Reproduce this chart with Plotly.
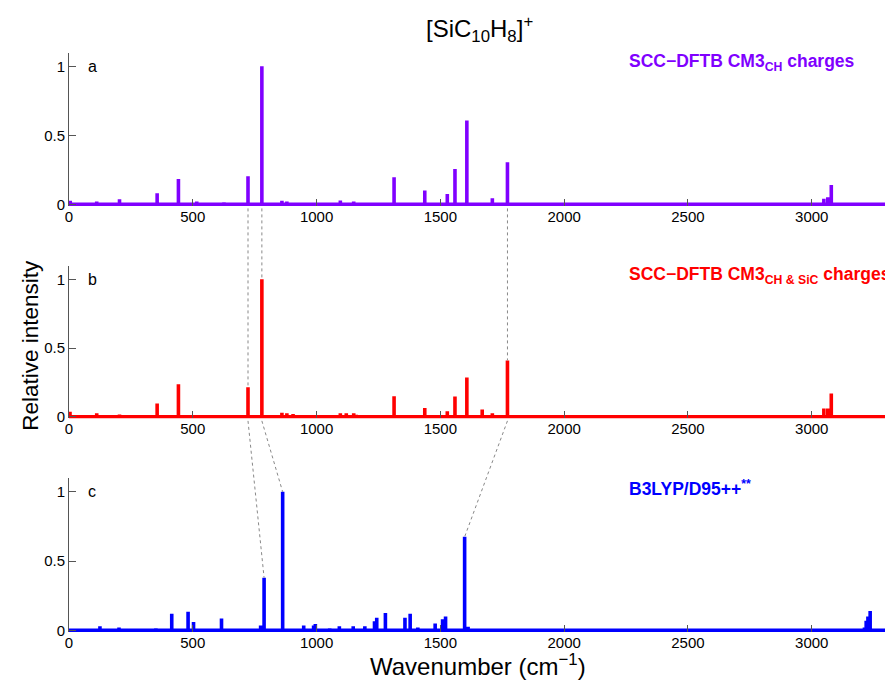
import plotly.graph_objects as go

# ---------------- data ----------------
freq_a = [5, 112, 204, 294, 356, 442, 516, 541, 626, 723, 779, 860, 880, 905, 1096, 1120, 1150, 1160,
          1285, 1313, 1437, 1528, 1559, 1607, 1669, 1710, 1771, 1780, 3049, 3065, 3079, 3090]
int_a = [0.025, 0.02, 0.036, 0.005, 0.08, 0.183, 0.02, 0.005, 0.015, 0.203, 1.0, 0.025, 0.02, 0.01, 0.027, 0.01,
         0.02, 0.01, 0.01, 0.196, 0.10, 0.075, 0.256, 0.608, 0.01, 0.044, 0.305, 0.005, 0.04, 0.05, 0.14, 0.005]

freq_b = [4, 112, 204, 294, 356, 366, 442, 516, 541, 626, 723, 779, 860, 880, 905, 1096, 1120, 1150, 1160,
          1285, 1313, 1437, 1528, 1559, 1607, 1669, 1710, 1771, 3049, 3065, 3079, 3090]
int_b = [0.036, 0.025, 0.017, 0.005, 0.097, 0.005, 0.237, 0.01, 0.008, 0.01, 0.215, 1.0, 0.03, 0.025, 0.02,
         0.025, 0.025, 0.025, 0.015, 0.01, 0.15, 0.063, 0.04, 0.148, 0.285, 0.053, 0.025, 0.41, 0.06, 0.06, 0.17, 0.005]

freq_c = [125, 202, 240, 338, 351, 415, 481, 503, 546, 616, 756, 774, 788, 863, 916, 948, 970, 988, 995,
          1036, 1053, 1092, 1148, 1195, 1234, 1243, 1278, 1357, 1378, 1409, 1479, 1509, 1521, 1598, 1612,
          3213, 3220, 3227, 3236]
int_c = [0.03, 0.02, 0.005, 0.01, 0.015, 0.12, 0.135, 0.06, 0.005, 0.085, 0.01, 0.035, 0.38, 1.0, 0.01,
         0.035, 0.005, 0.035, 0.045, 0.01, 0.015, 0.03, 0.03, 0.03, 0.065, 0.09, 0.125, 0.09, 0.12, 0.02,
         0.05, 0.08, 0.1, 0.675, 0.025, 0.02, 0.07, 0.1, 0.14]

# peak correspondences: (x in upper panel, x in lower panel, intensity of lower peak)
links_ab = [(723, 723, 0.215), (779, 779, 1.0), (1771, 1771, 0.41)]
links_bc = [(723, 788, 0.38), (779, 863, 1.0), (1771, 1598, 0.675)]

x_ticks = [0, 500, 1000, 1500, 2000, 2500, 3000]
y_ticks = [0, 0.5, 1]
y_tick_text = ["0", "0.5", "1"]

labels = ["SCC\u2212DFTB CM3<sub>CH</sub> charges",
          "SCC\u2212DFTB CM3<sub>CH &amp; SiC</sub> charges",
          "B3LYP/D95++<sup>**</sup>"]
letters = ["a", "b", "c"]
colors = ["#8000ff", "#ff0000", "#0000ff"]

X_MAX = 3300
Y_RANGE = [-0.012, 1.1]
domains = [[0.7321, 0.9957], [0.367, 0.6296], [0.0, 0.2646]]

FONT = "Liberation Sans, Arial, sans-serif"


def sticks(freqs, ints):
    xs, ys = [0], [0]
    for f, h in sorted(zip(freqs, ints)):
        xs += [f, f, f]
        ys += [0, h, 0]
    xs.append(X_MAX)
    ys.append(0)
    return xs, ys


def ypaper(panel, v):
    d0, d1 = domains[panel]
    return d0 + (v - Y_RANGE[0]) / (Y_RANGE[1] - Y_RANGE[0]) * (d1 - d0)


fig = go.Figure()
series = [(freq_a, int_a), (freq_b, int_b), (freq_c, int_c)]
for i, (f, h) in enumerate(series):
    xs, ys = sticks(f, h)
    suffix = "" if i == 0 else str(i + 1)
    fig.add_trace(go.Scatter(x=xs, y=ys, mode="lines",
                             line=dict(color=colors[i], width=3.6),
                             xaxis="x" + suffix, yaxis="y" + suffix,
                             showlegend=False, hoverinfo="skip"))

# page body has an 8px default margin, so the figure is sized to fit the window
layout = dict(
    width=885, height=680,
    margin=dict(l=61, r=7, t=42, b=56, autoexpand=False),
    plot_bgcolor="white", paper_bgcolor="white",
    font=dict(family=FONT, size=15, color="black"),
    showlegend=False,
)
for i in range(3):
    suffix = "" if i == 0 else str(i + 1)
    layout["xaxis" + suffix] = dict(
        range=[0, X_MAX], domain=[0, 1], anchor="y" + suffix,
        tickvals=x_ticks, ticks="inside", ticklen=7, tickcolor="#555",
        tickwidth=1, showline=False, showgrid=False, zeroline=False,
        automargin=False, tickfont=dict(size=15, family=FONT),
    )
    layout["yaxis" + suffix] = dict(
        range=Y_RANGE, domain=domains[i], anchor="x" + suffix,
        tickvals=y_ticks, ticktext=y_tick_text, ticks="inside", ticklen=7,
        tickcolor="#555", showline=True, linecolor="#555", linewidth=1,
        showgrid=False, zeroline=False, automargin=False,
        tickfont=dict(size=15, family=FONT),
    )
fig.update_layout(**layout)

annotations = []
for i in range(3):
    suffix = "" if i == 0 else str(i + 1)
    annotations.append(dict(x=70, y=1.0, xref="x" + suffix, yref="y" + suffix,
                            text=letters[i], showarrow=False, xanchor="left",
                            yanchor="middle", font=dict(size=16, family=FONT)))
    annotations.append(dict(x=2255, y=1.03, xref="x" + suffix, yref="y" + suffix,
                            text="<b>" + labels[i] + "</b>", showarrow=False,
                            xanchor="left", yanchor="middle",
                            font=dict(size=17.5, family=FONT, color=colors[i])))

annotations.append(dict(x=0.503, y=1.036, xref="paper", yref="paper",
                        text="[SiC<sub>10</sub>H<sub>8</sub>]<sup>+</sup>", showarrow=False,
                        xanchor="center", yanchor="middle", font=dict(size=24, family=FONT)))
annotations.append(dict(x=0.5, y=-0.056, xref="paper", yref="paper",
                        text="Wavenumber (cm<sup>\u22121</sup>)", showarrow=False,
                        xanchor="center", yanchor="middle", font=dict(size=24, family=FONT)))
annotations.append(dict(x=-0.048, y=0.493, xref="paper", yref="paper",
                        text="Relative intensity", showarrow=False, textangle=-90,
                        xanchor="center", yanchor="middle", font=dict(size=22.5, family=FONT)))
fig.update_layout(annotations=annotations)

shapes = []
for (x0, x1, h) in links_ab:
    shapes.append(dict(type="line", xref="x", yref="paper",
                       x0=x0, y0=ypaper(0, -0.03), x1=x1, y1=ypaper(1, h),
                       line=dict(color="#888", width=1, dash="dot")))
for (x0, x1, h) in links_bc:
    shapes.append(dict(type="line", xref="x", yref="paper",
                       x0=x0, y0=ypaper(1, -0.03), x1=x1, y1=ypaper(2, h),
                       line=dict(color="#888", width=1, dash="dot")))
fig.update_layout(shapes=shapes)

fig.write_html("out.html")
